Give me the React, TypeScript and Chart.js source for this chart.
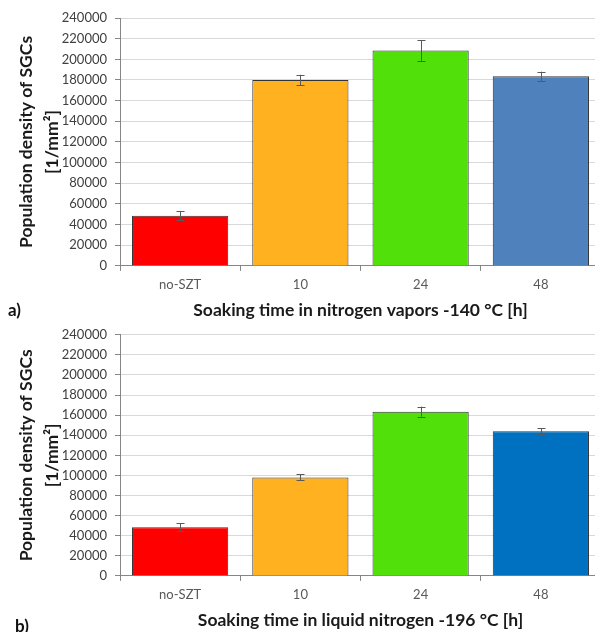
import React, { useEffect, useRef } from "react";
import { Chart, registerables } from "chart.js";

Chart.register(...registerables);

const categories = ["no-SZT", "10", "24", "48"];
const valuesA = [48500, 180000, 208500, 183500];
const errorsA = [4500, 5000, 10000, 4500];
const valuesB = [48500, 98000, 163500, 144000];
const errorsB = [4000, 3000, 5000, 3000];
const colorsA = ["#FF0000", "#FFB11F", "#52E00A", "#4F81BD"];
const colorsB = ["#FF0000", "#FFB11F", "#52E00A", "#0070C0"];
const yTitle = ["Population density of SGCs", "[1/mm\u00B2]"];
const xTitleA = "Soaking time in nitrogen vapors -140 \u00B0C [h]";
const xTitleB = "Soaking time in liquid nitrogen -196 \u00B0C [h]";
const yMin = 0;
const yMax = 240000;
const yStep = 20000;

const FONT = "Lato, 'Open Sans', sans-serif";

const errorBarPlugin = {
  id: "errorBars",
  afterDatasetsDraw(chart: any) {
    const errs: number[] = chart.options.plugins.errorBars?.errors || [];
    const meta = chart.getDatasetMeta(0);
    const ds = chart.data.datasets[0];
    const yScale = chart.scales.y;
    const ctx = chart.ctx;
    ctx.save();
    ctx.strokeStyle = "#595959";
    ctx.lineWidth = 1;
    meta.data.forEach((bar: any, i: number) => {
      const v = ds.data[i] as number;
      const e = errs[i] || 0;
      const x = Math.round(bar.x) + 0.5;
      const yTop = yScale.getPixelForValue(v + e);
      const yBot = yScale.getPixelForValue(v - e);
      ctx.beginPath();
      ctx.moveTo(x, yTop);
      ctx.lineTo(x, yBot);
      ctx.moveTo(x - 4, Math.round(yTop) + 0.5);
      ctx.lineTo(x + 4, Math.round(yTop) + 0.5);
      ctx.moveTo(x - 4, Math.round(yBot) + 0.5);
      ctx.lineTo(x + 4, Math.round(yBot) + 0.5);
      ctx.stroke();
    });
    ctx.restore();
  },
};

function BarChart(props: {
  values: number[];
  errors: number[];
  colors: string[];
  xTitle: string;
  padTop: number;
  padBottom: number;
}) {
  const ref = useRef<HTMLCanvasElement>(null);
  useEffect(() => {
    if (!ref.current) return;
    const chart = new Chart(ref.current, {
      type: "bar",
      data: {
        labels: categories,
        datasets: [
          {
            data: props.values,
            backgroundColor: props.colors,
            borderColor: "#333333",
            borderWidth: 1,
            barPercentage: 0.8,
            categoryPercentage: 1.0,
          },
        ],
      },
      plugins: [errorBarPlugin],
      options: {
        animation: false,
        responsive: true,
        maintainAspectRatio: false,
        layout: { padding: { left: 0, right: 2, top: props.padTop, bottom: props.padBottom } },
        plugins: {
          legend: { display: false },
          tooltip: { enabled: false },
          errorBars: { errors: props.errors },
        } as any,
        scales: {
          x: {
            grid: {
              offset: true,
              drawOnChartArea: false,
              drawTicks: true,
              tickLength: 5,
              color: "#868686",
            },
            border: { color: "#868686", width: 1 },
            ticks: { color: "#595959", font: { family: FONT, size: 13 }, padding: 6 },
            title: {
              display: true,
              text: props.xTitle,
              color: "#1a1a1a",
              font: { family: FONT, size: 17.5, weight: "bold", lineHeight: 1.0 },
              padding: { top: 3, bottom: 0 },
            },
          },
          y: {
            min: yMin,
            max: yMax,
            afterFit: (scale: any) => {
              scale.width = 120;
            },
            grid: {
              color: "#d9d9d9",
              tickColor: "#868686",
              tickLength: 5,
              lineWidth: 1,
            },
            border: { color: "#868686", width: 1 },
            ticks: {
              stepSize: yStep,
              color: "#404040",
              font: { family: FONT, size: 13 },
              padding: 8,
              callback: (v: any) => String(v),
            },
            title: {
              display: true,
              text: yTitle,
              color: "#1a1a1a",
              font: { family: FONT, size: 17.5, weight: "bold", lineHeight: 1.5 },
              padding: { top: 13, bottom: 0 },
            },
          },
        },
      } as any,
    });
    return () => chart.destroy();
  }, []);
  return <canvas ref={ref} />;
}

export default function App() {
  return (
    <div
      style={{
        position: "absolute",
        left: 0,
        top: 0,
        width: 595,
        height: 632,
        overflow: "hidden",
        background: "#fff",
        fontFamily: FONT,
      }}
    >
      <div style={{ position: "absolute", left: 0, top: 0, width: 603, height: 319 }}>
        <BarChart values={valuesA} errors={errorsA} colors={colorsA} xTitle={xTitleA} padTop={18} padBottom={0} />
      </div>
      <div style={{ position: "absolute", left: 0, top: 319, width: 603, height: 313 }}>
        <BarChart values={valuesB} errors={errorsB} colors={colorsB} xTitle={xTitleB} padTop={12} padBottom={3} />
      </div>
      <div style={{ position: "absolute", left: 8, top: 299, fontWeight: "bold", fontSize: 17, color: "#111" }}>a)</div>
      <div style={{ position: "absolute", left: 15, top: 615, fontWeight: "bold", fontSize: 17, color: "#111" }}>b)</div>
    </div>
  );
}
